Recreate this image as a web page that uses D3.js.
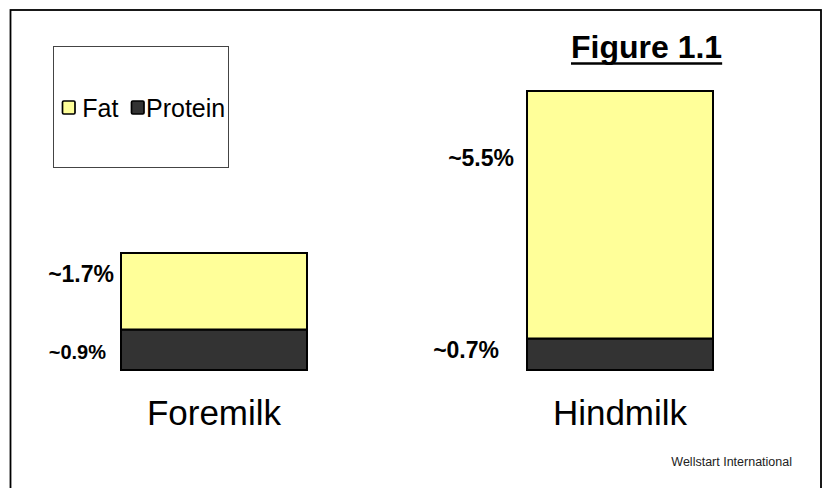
<!DOCTYPE html>
<html>
<head>
<meta charset="utf-8">
<script src="https://cdn.jsdelivr.net/npm/d3@7"></script>
<style>
  html, body { margin: 0; padding: 0; background: #fff; }
  svg { display: block; }
</style>
</head>
<body>
<svg id="chart" width="828" height="488"></svg>
<script>
// ---- data ----
const categories = ["Foremilk", "Hindmilk"];
const seriesNames = ["Protein", "Fat"];
const proteinValues = [0.9, 0.7];
const fatValues = [1.7, 5.5];
const valueLabels = [["~0.9%", "~1.7%"], ["~0.7%", "~5.5%"]]; // [category][series]
const legendNames = ["Fat", "Protein"];
const titleText = "Figure 1.1";
const creditText = "Wellstart International";

// ---- styling / layout (not data) ----
const colors = { Fat: "#FFFF99", Protein: "#333333" };
// per-label text styling: [category][series]
const labelStyle = [
  [ { size: 20, dx: -15, dy: 29.5 }, { size: 23, dx: -7, dy: 28.7 } ],
  [ { size: 23, dx: -28, dy: 19.8 }, { size: 23, dx: -13, dy: 75 } ]
];

const svg = d3.select("#chart");
const FONT = "'Liberation Sans', Arial, Helvetica, sans-serif";

// outer frame
svg.append("rect")
  .attr("x", 10.5).attr("y", 10).attr("width", 810.5).attr("height", 500)
  .attr("fill", "none").attr("stroke", "#000").attr("stroke-width", 1.8);

// scales
const x = d3.scaleBand().domain(categories).range([121, 713]).paddingInner(0.5419).paddingOuter(0);
const y = d3.scaleLinear().domain([0, 6.2]).range([370, 91]);

// stacked data
const table = categories.map((c, i) => ({ category: c, Protein: proteinValues[i], Fat: fatValues[i] }));
const stacked = d3.stack().keys(seriesNames)(table);

const g = svg.append("g");
stacked.forEach((layer) => {
  g.selectAll(null).data(layer).enter().append("rect")
    .attr("x", d => x(d.data.category))
    .attr("y", d => y(d[1]))
    .attr("width", x.bandwidth())
    .attr("height", d => y(d[0]) - y(d[1]))
    .attr("fill", colors[layer.key])
    .attr("stroke", "#000")
    .attr("stroke-width", 2);
});

// value labels
stacked.forEach((layer, si) => {
  layer.forEach((d, ci) => {
    const st = labelStyle[ci][si];
    svg.append("text")
      .attr("x", x(d.data.category) + st.dx)
      .attr("y", y(d[1]) + st.dy)
      .attr("text-anchor", "end")
      .attr("font-family", FONT)
      .attr("font-weight", "bold")
      .attr("font-size", st.size)
      .attr("fill", "#000")
      .text(valueLabels[ci][si]);
  });
});

// category labels
svg.selectAll(null).data(categories).enter().append("text")
  .attr("x", d => x(d) + x.bandwidth() / 2)
  .attr("y", 425)
  .attr("text-anchor", "middle")
  .attr("font-family", FONT)
  .attr("font-size", 35)
  .attr("fill", "#000")
  .text(d => d);

// title with underline
const title = svg.append("text")
  .attr("x", 571).attr("y", 58.3)
  .attr("font-family", FONT)
  .attr("font-weight", "bold")
  .attr("font-size", 32)
  .attr("fill", "#000")
  .text(titleText);
const tb = title.node().getBBox();
svg.append("line")
  .attr("x1", tb.x).attr("x2", tb.x + tb.width)
  .attr("y1", 63.5).attr("y2", 63.5)
  .attr("stroke", "#000").attr("stroke-width", 2.4);

// legend
svg.append("rect")
  .attr("x", 53.5).attr("y", 46.5).attr("width", 175).attr("height", 121)
  .attr("fill", "#fff").attr("stroke", "#444").attr("stroke-width", 1);
const legendX = [62.5, 131.5];
const legendTextX = [82.3, 146];
legendNames.forEach((name, i) => {
  svg.append("rect")
    .attr("x", legendX[i]).attr("y", 101).attr("width", 12.5).attr("height", 13)
    .attr("rx", 1.3)
    .attr("fill", colors[name]).attr("stroke", "#000").attr("stroke-width", 1.7);
  svg.append("text")
    .attr("x", legendTextX[i]).attr("y", 116.5)
    .attr("font-family", FONT)
    .attr("font-size", 25)
    .attr("fill", "#000")
    .text(name);
});

// credit
svg.append("text")
  .attr("x", 792).attr("y", 466)
  .attr("text-anchor", "end")
  .attr("font-family", FONT)
  .attr("font-size", 12.5)
  .attr("fill", "#222")
  .text(creditText);
</script>
</body>
</html>
